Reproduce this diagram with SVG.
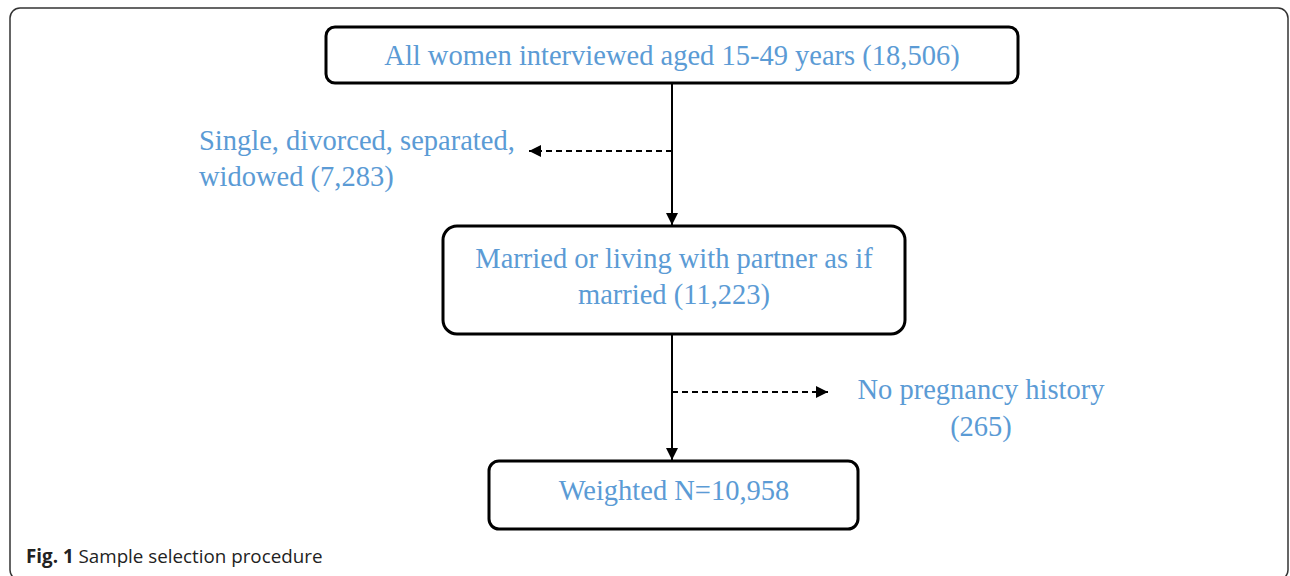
<svg xmlns="http://www.w3.org/2000/svg" width="1290" height="576" viewBox="0 0 1290 576">
<style>
.box{fill:#fff;stroke:#000;stroke-width:3}
.t{font-family:"Liberation Serif",serif;font-size:28.5px;fill:#5b9bd5}
.c{text-anchor:middle}
.ln{stroke:#000;stroke-width:2;fill:none}
.dash{stroke:#000;stroke-width:2;fill:none;stroke-dasharray:6,4}
.cap{font-family:"Open Sans",sans-serif;font-size:18.8px;fill:#222}
</style>
<defs>
<marker id="ah2" viewBox="0 0 10 10" refX="10" refY="5" markerWidth="12" markerHeight="12" markerUnits="userSpaceOnUse" orient="auto">
<path d="M0,0 L10,5 L0,10 z" fill="#000"/>
</marker>
</defs>
<rect x="0" y="0" width="1290" height="576" fill="#fff"/>
<rect x="10" y="8" width="1278" height="572" rx="10" fill="none" stroke="#333" stroke-width="1.5"/>
<g id="connectors">
<line class="ln" x1="672" y1="83" x2="672" y2="225" marker-end="url(#ah2)"/>
<line class="dash" x1="672" y1="151" x2="529" y2="151" marker-end="url(#ah2)"/>
<line class="ln" x1="672" y1="334" x2="672" y2="460" marker-end="url(#ah2)"/>
<line class="dash" x1="672" y1="392" x2="828" y2="392" marker-end="url(#ah2)"/>
</g>
<g id="n1">
<rect class="box" x="326" y="27" width="692" height="56" rx="9"/>
<text class="t c" x="672" y="65">All women interviewed aged 15-49 years (18,506)</text>
</g>
<g id="n2">
<text class="t" x="199" y="150">Single, divorced, separated,</text>
<text class="t" x="199" y="186">widowed (7,283)</text>
</g>
<g id="n3">
<rect class="box" x="443" y="226" width="462" height="108" rx="14"/>
<text class="t c" x="674" y="268">Married or living with partner as if</text>
<text class="t c" x="674" y="304">married (11,223)</text>
</g>
<g id="n4">
<text class="t c" x="981" y="399">No pregnancy history</text>
<text class="t c" x="981" y="436">(265)</text>
</g>
<g id="n5">
<rect class="box" x="489" y="461" width="369" height="68" rx="10"/>
<text class="t c" x="674" y="500">Weighted N=10,958</text>
</g>
<text class="cap" x="26" y="563"><tspan font-weight="bold">Fig. 1</tspan> Sample selection procedure</text>
</svg>
